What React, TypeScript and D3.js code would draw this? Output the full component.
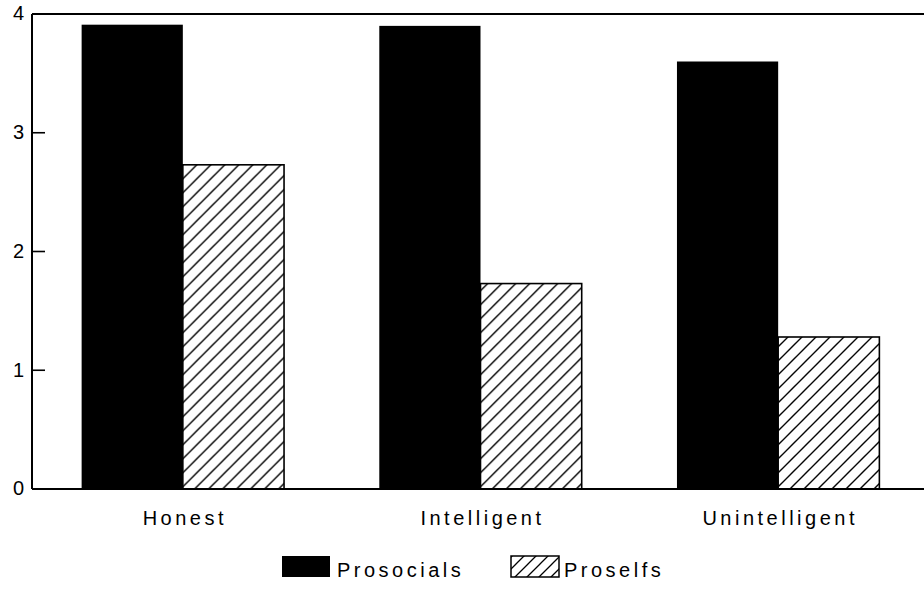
import React from "react";
import * as d3 from "d3";

const categories = ["Honest", "Intelligent", "Unintelligent"];
const seriesNames = ["Prosocials", "Proselfs"];
const prosocials = [3.91, 3.9, 3.6];
const proselfs = [2.73, 1.73, 1.28];
const yTicks = [0, 1, 2, 3, 4];

const W = 924;
const H = 604;
const FONT = "'Liberation Sans', Arial, Helvetica, sans-serif";

export default function App() {
  const left = 32;
  const top = 14;
  const bottom = 489;

  const y = d3.scaleLinear().domain([0, 4]).range([bottom, top]);
  const x0 = d3
    .scaleBand<string>()
    .domain(categories)
    .range([34, 927])
    .paddingInner(0.32)
    .paddingOuter(0.16);
  const x1 = d3
    .scaleBand<string>()
    .domain(seriesNames)
    .range([0, x0.bandwidth()])
    .padding(0);

  const values: Record<string, number[]> = {
    Prosocials: prosocials,
    Proselfs: proselfs,
  };

  return (
    <svg
      width={W}
      height={H}
      style={{ position: "absolute", left: 0, top: 0, background: "#fff" }}
      fontFamily={FONT}
    >
      <defs>
        <pattern
          id="hatch"
          patternUnits="userSpaceOnUse"
          width={14}
          height={14}
        >
          <rect width={14} height={14} fill="#fff" />
          <path
            d="M-2,2 L2,-2 M0,14 L14,0 M12,16 L16,12"
            stroke="#000"
            strokeWidth={1.4}
          />
        </pattern>
        <pattern
          id="hatchLegend"
          patternUnits="userSpaceOnUse"
          width={12}
          height={12}
        >
          <rect width={12} height={12} fill="#fff" />
          <path
            d="M-2,2 L2,-2 M0,12 L12,0 M10,14 L14,10"
            stroke="#000"
            strokeWidth={1.3}
          />
        </pattern>
      </defs>
      <rect width={W} height={H} fill="#fff" />

      {/* bars */}
      {categories.map((c, i) => (
        <g key={c} transform={`translate(${x0(c)},0)`}>
          {seriesNames.map((s) => {
            const v = values[s][i];
            const bx = x1(s)!;
            const by = y(v);
            const bw = x1.bandwidth();
            const bh = y(0) - by;
            return s === "Prosocials" ? (
              <rect key={s} x={bx} y={by} width={bw} height={bh} fill="#000" />
            ) : (
              <rect
                key={s}
                x={bx}
                y={by}
                width={bw}
                height={bh}
                fill="url(#hatch)"
                stroke="#000"
                strokeWidth={1.6}
              />
            );
          })}
        </g>
      ))}

      {/* frame */}
      <line x1={left} x2={W} y1={top} y2={top} stroke="#000" strokeWidth={2} />
      <line x1={left} x2={W} y1={bottom} y2={bottom} stroke="#000" strokeWidth={2} />
      <line x1={left} x2={left} y1={top} y2={bottom} stroke="#000" strokeWidth={2} />

      {/* y ticks */}
      {yTicks.map((t) => (
        <g key={t}>
          {t > 0 && t < 4 && (
            <line
              x1={left}
              x2={left + 13}
              y1={y(t)}
              y2={y(t)}
              stroke="#000"
              strokeWidth={1.6}
            />
          )}
          <text
            x={24}
            y={y(t) + 1}
            textAnchor="end"
            dominantBaseline="middle"
            fontSize={20}
            fill="#000"
          >
            {t}
          </text>
        </g>
      ))}

      {/* category labels */}
      {categories.map((c) => (
        <text
          key={c}
          x={x0(c)! + x0.bandwidth() / 2 + 2}
          y={525}
          textAnchor="middle"
          fontSize={20}
          letterSpacing={3.5}
          fill="#000"
        >
          {c}
        </text>
      ))}

      {/* legend */}
      <g>
        <rect x={282} y={556} width={48} height={21} fill="#000" />
        <text x={337} y={577} fontSize={20} letterSpacing={3.5} fill="#000">
          {seriesNames[0]}
        </text>
        <rect
          x={511}
          y={556}
          width={48}
          height={21}
          fill="url(#hatchLegend)"
          stroke="#000"
          strokeWidth={1.5}
        />
        <text x={564} y={577} fontSize={20} letterSpacing={3.5} fill="#000">
          {seriesNames[1]}
        </text>
      </g>
    </svg>
  );
}
